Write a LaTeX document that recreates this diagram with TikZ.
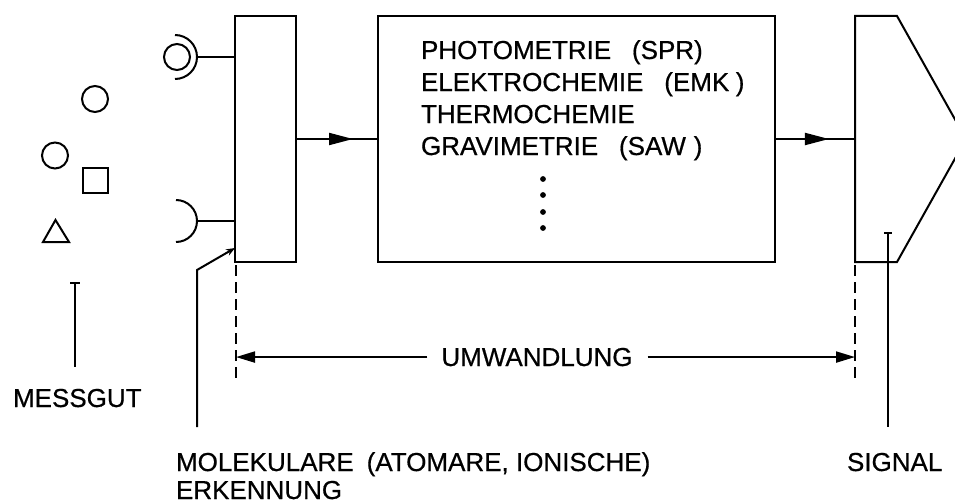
\documentclass[tikz,border=0pt]{standalone}
\usepackage{fontspec}
\newfontfamily\lab{Liberation Sans}[FakeBold=0.6]
\usetikzlibrary{arrows.meta,decorations.markings}
\begin{document}
\begin{tikzpicture}[x=1pt,y=-1pt,line width=2pt,
  lbl/.style={font=\lab\fontsize{26}{30}\selectfont, inner sep=0pt},
  blk/.style={draw, rectangle, inner sep=0pt},
  midarrow/.style={decoration={markings, mark=at position #1 with {\arrow{Triangle[length=24pt,width=12pt]}}}, postaction={decorate}},
  dimarrow/.style={-{Triangle[length=19pt,width=11pt]}},
  guide/.style={dash pattern=on 11pt off 6pt, line width=1.5pt},
  tick/.style={line width=2.6pt}]
\useasboundingbox (0,0) rectangle (955,503);
\clip (0,0) rectangle (955,503);
\fill[white] (0,0) rectangle (955,503);

% blocks
\node[blk, minimum width=61pt, minimum height=246pt] (det) at (265.5,139) {};
\node[blk, minimum width=397pt, minimum height=246pt] (trans) at (576.5,139) {};
\coordinate (s1) at (855,16);
\coordinate (s2) at (897,16);
\coordinate (s3) at (966,139);
\coordinate (s4) at (897,262);
\coordinate (s5) at (855,262);
\coordinate (sigin) at (855,139);
\draw[line join=miter] (s1) -- (s2) -- (s3) -- (s4) -- (s5) -- cycle;

% flow arrows
\draw[midarrow=0.7] (det.east) -- (trans.west);
\draw[midarrow=0.67] (trans.east) -- (sigin);

% text in transducer block
\node[lbl, anchor=base west] (t1) at (420,59) {PHOTOMETRIE\hspace{0.8em}(SPR)};
\node[lbl, anchor=base west] (t2) at (420,91) {ELEKTROCHEMIE\hspace{0.8em}(EMK\hspace{0.25em})};
\node[lbl, anchor=base west] (t3) at (420,123) {THERMOCHEMIE};
\node[lbl, anchor=base west] (t4) at (420,155) {GRAVIMETRIE\hspace{0.8em}(SAW\hspace{0.3em})};
\foreach \yy in {179,195,212,228} \fill (543,\yy) circle[radius=2.9pt];

% receptors
\draw (177,57) circle[radius=13pt];
\draw (175,35) arc[start angle=90,end angle=-90,radius=22pt];
\coordinate (r1) at (197,57);
\draw (r1) -- (r1 -| det.west);
\draw (176,200) arc[start angle=90,end angle=-90,radius=21pt];
\coordinate (r2) at (197,221);
\draw (r2) -- (r2 -| det.west);

% analytes
\draw (95,99) circle[radius=13pt];
\draw (55,155.5) circle[radius=13pt];
\draw (83,168) rectangle (108,193);
\draw[line join=miter] (55.5,220) -- (43,242) -- (69,242) -- cycle;

% MESSGUT
\node[lbl, anchor=base west] (messgut) at (12,407) {MESSGUT};
\coordinate (mt) at (75,283);
\coordinate (mb) at (75,367);
\draw (mt) -- (mb);
\draw[tick] ([xshift=-5pt]mt) -- ([xshift=5pt]mt);

% MOLEKULARE pointer
\node[lbl, anchor=base west] (mol) at (175,471) {MOLEKULARE\hspace{0.5em}(ATOMARE, IONISCHE)};
\node[lbl, anchor=base west] (erk) at (175,499) {ERKENNUNG};
\coordinate (p1) at (197,427);
\coordinate (p2) at (197,270);
\coordinate (p3) at (235,248);
\draw[-{Stealth[length=9pt,width=7pt]}, line join=miter] (p1) -- (p2) -- (p3);

% SIGNAL pointer
\node[lbl, anchor=base west] (sig) at (846,471) {SIGNAL};
\coordinate (st) at (888,233);
\coordinate (sb) at (888,427);
\draw (st) -- (sb);
\draw[tick] ([xshift=-4pt]st) -- ([xshift=4pt]st);

% dimension lines
\coordinate (d1) at (236,265);
\coordinate (d2) at (236,378);
\coordinate (d3) at (855,265);
\coordinate (d4) at (855,378);
\draw[guide] (d1) -- (d2);
\draw[guide] (d3) -- (d4);
\node[lbl, anchor=base] (um) at (537,366) {UMWANDLUNG};
\draw[dimarrow] ([xshift=-13pt]um.west) -- (um.west -| d1);
\draw[dimarrow] ([xshift=14pt]um.east) -- (um.east -| d3);
\end{tikzpicture}
\end{document}
